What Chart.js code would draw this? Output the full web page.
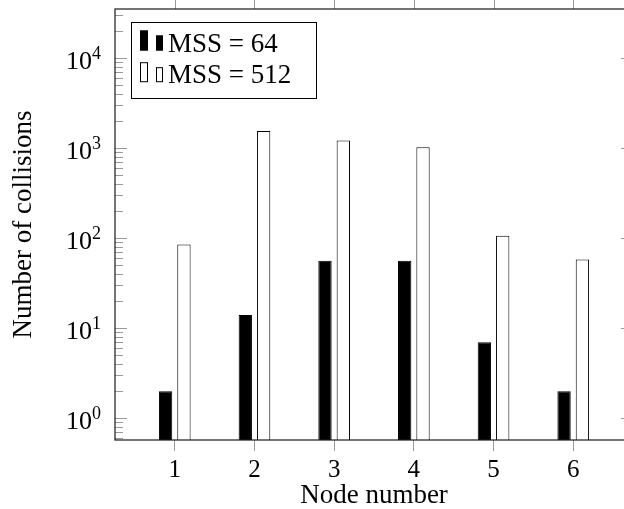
<!DOCTYPE html>
<html>
<head>
<meta charset="utf-8">
<script src="https://cdn.jsdelivr.net/npm/chart.js@4.4.1/dist/chart.umd.min.js"></script>
<style>
  html, body { margin: 0; padding: 0; background: #fff; overflow: hidden; }
  canvas { display: block; }
</style>
</head>
<body>
<canvas id="myChart" width="660" height="509"></canvas>
<script>
// data
var nodes = [1, 2, 3, 4, 5, 6];
var mss64 = [2, 14, 56, 56, 7, 2];
var mss512 = [85, 1550, 1210, 1020, 106, 58];
var seriesNames = ['MSS = 64', 'MSS = 512'];
var yMajorTicks = [1, 10, 100, 1000, 10000];

var serif = "'Liberation Serif', 'Times New Roman', serif";

// pgfplots-like frame, inward y ticks, top x ticks, y labels and legend
var decorations = {
    id: 'decorations',
    afterDraw: function(chart) {
        var ctx = chart.ctx;
        var ca = chart.chartArea;
        var ys = chart.scales.y;
        var xs = chart.scales.x;

        ctx.save();

        // y ticks (major + minor), both sides, pointing inward
        ctx.strokeStyle = '#999';
        ctx.lineWidth = 1;
        for (var e = -1; e <= 5; e++) {
            for (var m = 1; m <= 9; m++) {
                var v = m * Math.pow(10, e);
                if (v < ys.min || v > ys.max) continue;
                var py = Math.round(ys.getPixelForValue(v)) + 0.5;
                var len = m === 1 ? 12 : 8;
                ctx.beginPath();
                ctx.moveTo(ca.left, py); ctx.lineTo(ca.left + len, py);
                ctx.moveTo(ca.right, py); ctx.lineTo(ca.right - len, py);
                ctx.stroke();
            }
        }

        // x ticks on the top axis
        nodes.forEach(function(n) {
            var px = Math.round(xs.getPixelForValue(n)) + 0.5;
            ctx.beginPath();
            ctx.moveTo(px, ca.top); ctx.lineTo(px, ca.top - 12);
            ctx.stroke();
        });

        // frame
        ctx.strokeStyle = '#1a1a1a';
        ctx.lineWidth = 1.2;
        ctx.strokeRect(ca.left, ca.top, ca.right - ca.left, ca.bottom - ca.top);

        // y tick labels 10^n
        ctx.fillStyle = '#000';
        ctx.textAlign = 'right';
        ctx.textBaseline = 'alphabetic';
        yMajorTicks.forEach(function(v) {
            var py = ys.getPixelForValue(v);
            var ex = String(Math.round(Math.log10(v)));
            ctx.font = '18px ' + serif;
            ctx.fillText(ex, 101, py + 0.5);
            var w = ctx.measureText(ex).width;
            ctx.font = '26px ' + serif;
            ctx.fillText('10', 101 - w, py + 11);
        });

        // legend box inside the plot
        var lx = ca.left + 16, ly = ca.top + 13, lw = 185, lh = 76;
        ctx.fillStyle = '#fff';
        ctx.fillRect(lx, ly, lw, lh);
        ctx.strokeStyle = '#000';
        ctx.lineWidth = 1;
        ctx.strokeRect(lx + 0.5, ly + 0.5, lw, lh);
        ctx.textAlign = 'left';
        ctx.font = '27px ' + serif;
        chart.data.datasets.forEach(function(ds, i) {
            var b = ly + 29.5 + i * 31.7;
            ctx.fillStyle = ds.backgroundColor;
            ctx.strokeStyle = ds.borderColor;
            ctx.fillRect(lx + 9, b - 21, 8, 20);
            ctx.strokeRect(lx + 9.5, b - 20.5, 7, 19);
            ctx.fillRect(lx + 25, b - 16, 7, 15);
            ctx.strokeRect(lx + 25.5, b - 15.5, 6, 14);
            ctx.fillStyle = '#000';
            ctx.fillText(ds.label, lx + 37, b);
        });

        ctx.restore();
    }
};

var ctx = document.getElementById('myChart').getContext('2d');

var myChart = new Chart(ctx, {
    type: 'bar',
    data: {
        datasets: [{
            label: seriesNames[0],
            data: nodes.map(function(n, i) { return { x: n, y: mss64[i] }; }),
            backgroundColor: '#000',
            borderColor: '#000',
            borderWidth: 1
        }, {
            label: seriesNames[1],
            data: nodes.map(function(n, i) { return { x: n, y: mss512[i] }; }),
            backgroundColor: '#fff',
            borderColor: '#000',
            borderWidth: 1
        }]
    },
    options: {
        responsive: false,
        animation: false,
        categoryPercentage: 0.46,
        barPercentage: 0.727,
        layout: {
            padding: { left: 0, right: 27, top: 9, bottom: 0 }
        },
        plugins: {
            legend: { display: false },
            tooltip: { enabled: false }
        },
        scales: {
            x: {
                type: 'linear',
                min: 0.25,
                max: 6.75,
                offset: false,
                afterBuildTicks: function(scale) {
                    scale.ticks = nodes.map(function(n) { return { value: n }; });
                },
                afterFit: function(scale) { scale.height = 69; },
                ticks: {
                    color: '#000',
                    padding: 4,
                    font: { family: serif, size: 25 },
                    callback: function(v) { return String(v); }
                },
                grid: {
                    offset: false,
                    drawOnChartArea: false,
                    drawTicks: true,
                    tickLength: 11,
                    color: '#999'
                },
                border: { display: false },
                title: {
                    display: true,
                    text: 'Node number',
                    color: '#000',
                    padding: 0,
                    font: { family: serif, size: 27, lineHeight: 1 }
                }
            },
            y: {
                type: 'logarithmic',
                min: 0.574,
                max: 35000,
                afterFit: function(scale) { scale.width = 115; },
                ticks: { display: false },
                grid: { display: false },
                border: { display: false },
                title: {
                    display: true,
                    text: 'Number of collisions',
                    color: '#000',
                    padding: { top: 10.5, bottom: 0 },
                    font: { family: serif, size: 27, lineHeight: 1 }
                }
            }
        }
    },
    plugins: [decorations]
});
</script>
</body>
</html>
